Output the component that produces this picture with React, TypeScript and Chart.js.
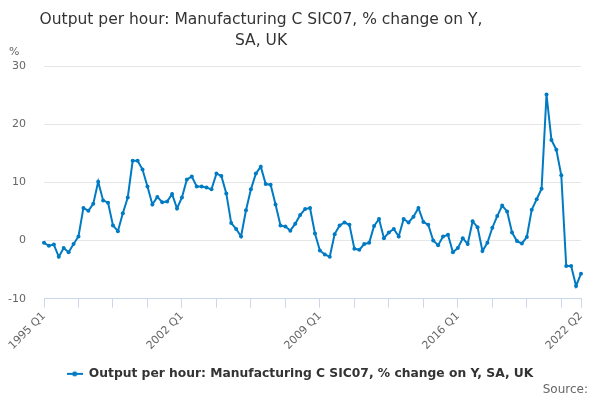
import React, { useEffect, useRef } from 'react';
import { Chart, registerables } from 'chart.js';

Chart.register(...registerables);

const TITLE_LINES = ['Output per hour: Manufacturing C SIC07, % change on Y,', 'SA, UK'];
const SERIES_LABEL = 'Output per hour: Manufacturing C SIC07, % change on Y, SA, UK';
const START_YEAR = 1995;

// quarterly values, 1995 Q1 .. 2022 Q2
const values = [
  -0.4, -0.9, -0.7, -2.8, -1.3, -2.0, -0.6, 0.7, 5.6, 5.1,
  6.3, 10.1, 6.9, 6.5, 2.6, 1.6, 4.7, 7.4, 13.7, 13.7,
  12.2, 9.3, 6.2, 7.5, 6.6, 6.7, 8.0, 5.5, 7.4, 10.5,
  11.0, 9.3, 9.3, 9.1, 8.8, 11.5, 11.1, 8.1, 3.0, 2.0,
  0.7, 5.2, 8.8, 11.5, 12.7, 9.7, 9.6, 6.2, 2.6, 2.4,
  1.7, 2.9, 4.4, 5.4, 5.6, 1.2, -1.7, -2.4, -2.8, 1.1,
  2.6, 3.1, 2.7, -1.4, -1.6, -0.6, -0.4, 2.5, 3.7, 0.4,
  1.4, 2.0, 0.7, 3.7, 3.1, 4.1, 5.6, 3.2, 2.7, 0.0,
  -0.8, 0.7, 1.0, -2.0, -1.3, 0.4, -0.6, 3.3, 2.3, -1.8,
  -0.4, 2.2, 4.2, 6.0, 5.0, 1.4, -0.1, -0.5, 0.6, 5.3,
  7.1, 8.9, 25.1, 17.3, 15.6, 11.2, -4.4, -4.4, -7.8, -5.7,
];

const quarters = values.map((_, i) => `${START_YEAR + Math.floor(i / 4)} Q${(i % 4) + 1}`);

const FONT = '"DejaVu Sans", sans-serif';
const LINE_COLOR = '#007bc3';

const makeLegendSymbol = () => {
  const c = document.createElement('canvas');
  c.width = 16;
  c.height = 10;
  const ctx = c.getContext('2d');
  if (ctx) {
    ctx.strokeStyle = LINE_COLOR;
    ctx.lineWidth = 2;
    ctx.beginPath();
    ctx.moveTo(0, 5);
    ctx.lineTo(16, 5);
    ctx.stroke();
    ctx.fillStyle = LINE_COLOR;
    ctx.beginPath();
    ctx.arc(8, 5, 2.5, 0, Math.PI * 2);
    ctx.fill();
  }
  return c;
};

// title, unit label and source note
const textPlugin = {
  id: 'extraText',
  afterLayout(chart: any) {
    // legend is centred on the whole canvas, not on the padded area
    if (chart.legend) {
      chart.legend.left += 9.5;
      chart.legend.right += 9.5;
    }
  },
  afterDraw(chart: any) {
    const ctx = chart.ctx;
    ctx.save();
    ctx.fillStyle = '#333333';
    ctx.font = `15.5px ${FONT}`;
    ctx.textAlign = 'center';
    ctx.textBaseline = 'alphabetic';
    ctx.fillText(TITLE_LINES[0], 261, 23.5);
    ctx.fillText(TITLE_LINES[1], 261, 45);

    ctx.fillStyle = '#666666';
    ctx.font = `11px ${FONT}`;
    ctx.textAlign = 'left';
    ctx.textBaseline = 'middle';
    ctx.fillText('%', 9, 52);

    ctx.font = `12px ${FONT}`;
    ctx.textAlign = 'right';
    ctx.fillText('Source:', 588, 390);
    ctx.restore();
  },
};

const App: React.FC = () => {
  const chartRef = useRef<HTMLCanvasElement | null>(null);
  const chartInstance = useRef<Chart | null>(null);

  useEffect(() => {
    if (!chartRef.current) return;
    if (chartInstance.current) chartInstance.current.destroy();

    const last = values.length - 1;
    const symbol = makeLegendSymbol();

    chartInstance.current = new Chart(chartRef.current, {
      type: 'line',
      data: {
        labels: quarters,
        datasets: [
          {
            label: SERIES_LABEL,
            data: values,
            borderColor: LINE_COLOR,
            backgroundColor: LINE_COLOR,
            borderWidth: 2,
            pointRadius: 2,
            pointBorderWidth: 0,
            pointHoverRadius: 3,
            tension: 0,
          },
        ],
      },
      options: {
        responsive: false,
        animation: false,
        layout: { padding: { top: 66, right: 19, bottom: 10, left: 0 } },
        plugins: {
          title: { display: false },
          tooltip: { enabled: false },
          legend: {
            position: 'bottom',
            labels: {
              usePointStyle: true,
              pointStyleWidth: 16,
              padding: 10,
              color: '#333333',
              font: { family: FONT, size: 12.3, weight: 'bold' },
              generateLabels: () => [
                {
                  text: SERIES_LABEL,
                  pointStyle: symbol,
                  fillStyle: LINE_COLOR,
                  strokeStyle: LINE_COLOR,
                  lineWidth: 0,
                  hidden: false,
                  datasetIndex: 0,
                  fontColor: '#333333',
                } as any,
              ],
            },
          },
        },
        scales: {
          x: {
            type: 'category',
            offset: false,
            afterBuildTicks: (scale: any) => {
              scale.ticks = scale.ticks.filter((t: any) => t.value % 7 === 0 || t.value === last);
            },
            afterFit: (scale: any) => {
              scale.height = 59;
            },
            grid: {
              drawOnChartArea: false,
              drawTicks: true,
              tickLength: 9,
              color: '#ccd6eb',
            },
            border: { display: true, color: '#ccd6eb', width: 1 },
            ticks: {
              autoSkip: false,
              maxRotation: 45,
              minRotation: 45,
              padding: 2,
              color: '#666666',
              font: { family: FONT, size: 11 },
              callback: function (this: any, value: any) {
                const v = Number(value);
                return v % 28 === 0 || v === last ? this.getLabelForValue(v) : '';
              },
            },
          },
          y: {
            min: -10,
            max: 30,
            afterFit: (scale: any) => {
              scale.width = 44;
            },
            grid: { color: '#e6e6e6', drawTicks: false },
            border: { display: false },
            ticks: {
              stepSize: 10,
              padding: 18,
              color: '#666666',
              font: { family: FONT, size: 11 },
            },
          },
        },
      } as any,
      plugins: [textPlugin],
    });

    return () => {
      if (chartInstance.current) {
        chartInstance.current.destroy();
        chartInstance.current = null;
      }
    };
  }, []);

  return (
    <div style={{ position: 'absolute', left: 0, top: 0, width: 600, height: 400, background: '#ffffff' }}>
      <canvas ref={chartRef} width={600} height={400} />
    </div>
  );
};

export default App;
